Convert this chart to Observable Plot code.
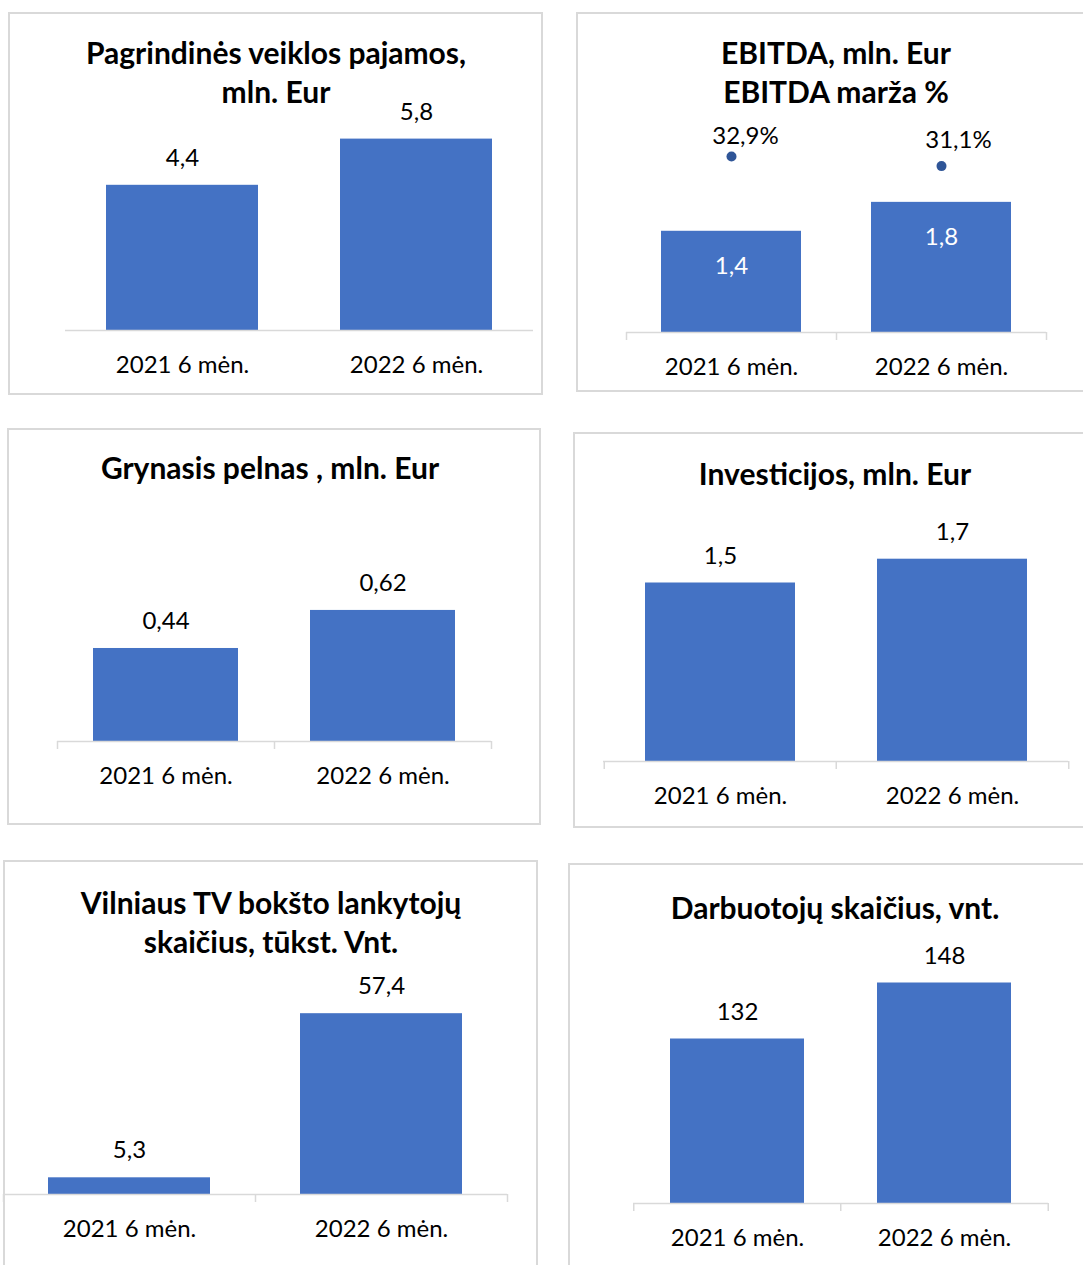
<!DOCTYPE html>
<html>
<head>
<meta charset="utf-8">
<script src="https://cdn.jsdelivr.net/npm/d3@7"></script>
<script src="https://cdn.jsdelivr.net/npm/@observablehq/plot@0.6"></script>
<style>
  body { margin: 0; background: #fff; }
  #root { position: relative; width: 1083px; height: 1265px; overflow: hidden; background: #fff; font-family: Lato, "Open Sans", sans-serif; }
  .box { position: absolute; box-sizing: border-box; border: 2px solid #d9d9d9; }
  .title { position: absolute; width: 600px; text-align: center; font-weight: bold; font-size: 30px; line-height: 39px; color: #000; white-space: nowrap; }
  .chart { position: absolute; }
  .chart svg { overflow: visible; max-width: none !important; }
</style>
</head>
<body>
<div id="root"></div>
<script>
// ---- data ----
const periods = ["2021 6 mėn.", "2022 6 mėn."];
const pajamos = [4.4, 5.8];            // Pagrindinės veiklos pajamos, mln. Eur
const ebitda = [1.4, 1.8];             // EBITDA, mln. Eur
const ebitdaMarza = [32.9, 31.1];      // EBITDA marža %
const grynasisPelnas = [0.44, 0.62];   // Grynasis pelnas, mln. Eur
const investicijos = [1.5, 1.7];       // Investicijos, mln. Eur
const lankytojai = [5.3, 57.4];        // Vilniaus TV bokšto lankytojai, tūkst.
const darbuotojai = [132, 148];        // Darbuotojų skaičius
const titles = [
  ["Pagrindinės veiklos pajamos,", "mln. Eur"],
  ["EBITDA, mln. Eur", "EBITDA marža %"],
  ["Grynasis pelnas , mln. Eur"],
  ["Investicijos, mln. Eur"],
  ["Vilniaus TV bokšto lankytojų", "skaičius, tūkst. Vnt."],
  ["Darbuotojų skaičius, vnt."]
];

const BAR = "#4472C4";
const DOT = "#2F5597";
const AXIS = "#d9d9d9";
const FONT = "Lato, 'Open Sans', sans-serif";
const FS = 24;
const fmt = v => String(v).replace(".", ",");

const root = document.getElementById("root");

const panels = [
  {values: pajamos, title: titles[0], box: [8, 12, 543, 395], axis: {x0: 65, x1: 533, y: 330}, k: 33.0, v0: 0, ticks: false, pad: 0.35, titleY: 52, titleX: 276},
  {values: ebitda, title: titles[1], box: [576, 12, 1095, 392], axis: {x0: 626, x1: 1046, y: 332}, k: 72.3, v0: 0, ticks: true, pad: 0.333, titleY: 52, titleX: 836, inside: true, margin: ebitdaMarza, k2: 5.35},
  {values: grynasisPelnas, title: titles[2], box: [7, 428, 541, 825], axis: {x0: 57, x1: 491, y: 741}, k: 211.4, v0: 0, ticks: true, pad: 0.332, titleY: 467, titleX: 270},
  {values: investicijos, title: titles[3], box: [573, 432, 1095, 828], axis: {x0: 603, x1: 1068, y: 761}, k: 119, v0: 0, ticks: true, pad: 0.355, titleY: 473, titleX: 835},
  {values: lankytojai, title: titles[4], box: [3, 860, 538, 1280], axis: {x0: 3, x1: 507, y: 1194}, k: 3.15, v0: 0, ticks: true, pad: 0.357, titleY: 902, titleX: 271},
  {values: darbuotojai, title: titles[5], box: [568, 863, 1095, 1280], axis: {x0: 633, x1: 1048, y: 1203}, k: 3.5, v0: 85, ticks: true, pad: 0.354, titleY: 907, titleX: 835}
];

function place(node, left, top, w, h) {
  const wrap = document.createElement("div");
  wrap.className = "chart";
  Object.assign(wrap.style, {left: left + "px", top: top + "px", width: w + "px", height: h + "px"});
  wrap.appendChild(node);
  root.appendChild(wrap);
}

for (const p of panels) {
  const [L, T, R, B] = p.box;
  const W = R - L, H = B - T;
  const box = document.createElement("div");
  box.className = "box";
  Object.assign(box.style, {left: L + "px", top: T + "px", width: W + "px", height: H + "px"});
  root.appendChild(box);

  const base = p.axis.y - T;
  const v0 = p.v0;
  const D = v0 + (base - 2) / p.k;
  const table = periods.map((period, i) => ({period, value: p.values[i], marza: p.margin ? p.margin[i] : null}));
  const step = (p.axis.x1 - p.axis.x0) / 2;
  const xScale = {type: "band", domain: periods, paddingInner: p.pad, paddingOuter: p.pad / 2, axis: null};
  const common = {
    width: W, height: H,
    marginLeft: p.axis.x0 - L, marginRight: R - p.axis.x1, marginTop: 0, marginBottom: 0,
    x: xScale,
    style: {fontFamily: FONT, fontSize: FS + "px", background: "transparent", overflow: "visible", maxWidth: "none"}
  };

  const marks = [
    Plot.barY(table, {x: "period", y1: () => v0, y2: "value", fill: BAR}),
    Plot.ruleY([v0], {stroke: AXIS, strokeWidth: 1.5}),
    Plot.text(table, {x: "period", y: "value", text: d => fmt(d.value), dy: p.inside ? 35 : -27, fill: p.inside ? "white" : "black", fontSize: FS}),
    Plot.text(table, {x: "period", y: () => v0, text: "period", dy: 35, fill: "black", fontSize: FS})
  ];
  if (p.ticks) {
    marks.push(Plot.ruleX(table, {x: "period", y1: () => v0, y2: () => v0, dx: -step / 2, insetBottom: -8, stroke: AXIS, strokeWidth: 1.5}));
    marks.push(Plot.ruleX([table[table.length - 1]], {x: "period", y1: () => v0, y2: () => v0, dx: step / 2, insetBottom: -8, stroke: AXIS, strokeWidth: 1.5}));
  }
  const chart = Plot.plot({
    ...common,
    y: {domain: [v0, D], range: [base, base - p.k * (D - v0)], axis: null},
    marks
  });
  place(chart, L, T, W, H);

  if (p.margin) {
    const D2 = (base - 2) / p.k2;
    const overlay = Plot.plot({
      ...common,
      y: {domain: [0, D2], range: [base, base - p.k2 * D2], axis: null},
      marks: [
        Plot.dot(table, {x: "period", y: "marza", r: 5, fill: DOT}),
        Plot.text(table, {filter: d => d.period === periods[0], x: "period", y: "marza", text: d => fmt(d.marza) + "%", dx: 14, dy: -20, fill: "black", fontSize: FS}),
        Plot.text(table, {filter: d => d.period === periods[1], x: "period", y: "marza", text: d => fmt(d.marza) + "%", dx: 17, dy: -26, fill: "black", fontSize: FS})
      ]
    });
    place(overlay, L, T, W, H);
  }

  const t = document.createElement("div");
  t.className = "title";
  t.style.left = (p.titleX - 300) + "px";
  t.style.top = (p.titleY - 19.5) + "px";
  t.innerHTML = p.title.join("<br>");
  root.appendChild(t);
}
</script>
</body>
</html>
